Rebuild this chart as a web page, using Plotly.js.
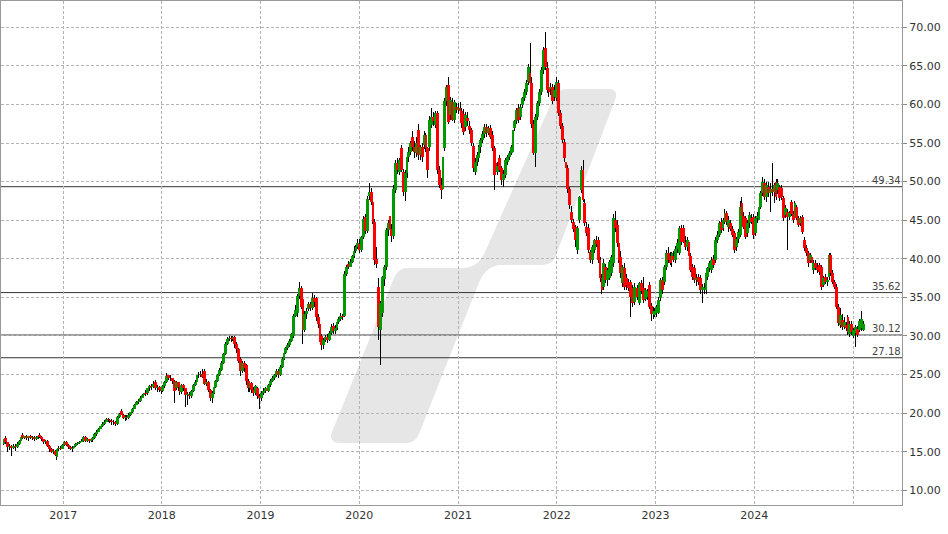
<!DOCTYPE html>
<html><head><meta charset="utf-8">
<script src="https://cdn.plot.ly/plotly-3.0.1.min.js"></script>
<style>html,body{margin:0;padding:0;background:#fff}#chart{width:948px;height:534px}</style>
</head><body><div id="chart"></div>
<script>
// weekly candles [open, high, low, close], first week ending 2016-05-27
const firstWeek = '2016-05-27';
const ohlc2016 = [[16.0,16.7,15.9,16.6],[16.8,17.0,16.0,16.2],[16.2,16.3,15.0,15.6],[15.6,16.0,15.2,15.8],[15.8,15.9,14.4,15.5],[15.5,16.0,15.3,15.8],[15.8,16.0,15.1,15.6],[15.6,16.2,15.5,16.0],[16.0,16.5,15.9,16.4],[16.4,17.0,16.3,16.9],[17.2,17.4,16.7,16.8],[16.8,17.1,16.6,17.0],[17.0,17.2,16.5,16.8],[16.8,17.1,16.4,17.0],[17.0,17.2,16.6,16.8],[16.8,17.1,16.5,16.9],[16.9,17.0,16.4,16.7],[16.7,17.0,16.5,16.9],[16.9,17.2,16.7,17.1],[17.2,17.4,16.8,16.9],[16.9,17.0,16.4,16.6],[16.6,16.7,16.0,16.2],[16.2,16.5,16.0,16.4],[16.4,16.5,15.6,15.8],[15.8,15.9,15.0,15.3],[15.3,15.5,14.8,15.0],[15.0,15.3,14.7,15.1],[15.1,15.2,14.4,14.6],[14.3,15.4,13.9,15.3],[15.3,15.7,15.1,15.5],[15.5,15.7,15.2,15.4],[15.4,16.0,15.3,15.9]];
const ohlc2017 = [[15.9,16.4,15.8,16.3],[16.3,16.4,15.8,15.9],[15.9,16.0,15.4,15.6],[15.6,15.7,15.2,15.4],[15.4,15.7,15.0,15.5],[15.5,15.8,15.3,15.7],[15.7,16.1,15.6,16.0],[16.0,16.3,15.9,16.1],[16.1,16.4,16.0,16.3],[16.3,16.6,16.2,16.4],[16.4,17.0,16.3,16.9],[16.9,17.0,16.2,16.4],[16.4,16.8,16.2,16.6],[16.6,16.7,16.1,16.4],[16.4,16.6,16.2,16.5],[16.5,16.9,16.3,16.8],[16.8,17.4,16.7,17.3],[17.3,17.8,17.1,17.6],[17.6,18.1,17.5,18.0],[18.0,18.4,17.9,18.3],[18.3,18.8,18.2,18.6],[18.6,19.1,18.5,18.9],[18.9,19.4,18.8,19.2],[19.2,19.4,18.9,19.1],[19.1,19.3,18.7,19.0],[19.0,19.2,18.5,18.8],[18.8,19.1,18.5,18.9],[18.9,19.0,18.4,18.6],[18.6,19.6,18.5,19.5],[19.5,20.0,19.4,19.9],[20.3,20.5,19.7,19.8],[19.8,19.9,19.2,19.4],[19.4,19.7,19.0,19.5],[19.5,19.7,19.1,19.4],[19.4,20.0,19.3,19.8],[19.8,20.2,19.6,20.1],[20.1,20.7,20.0,20.6],[20.6,21.2,20.5,21.1],[21.1,21.6,21.0,21.4],[21.4,21.8,21.2,21.6],[21.6,22.2,21.5,22.0],[22.0,22.5,21.9,22.3],[22.3,23.3,22.1,22.6],[22.6,23.0,22.2,22.5],[22.6,23.3,22.4,23.2],[23.2,23.7,22.9,23.5],[23.5,23.8,23.0,23.4],[23.4,24.2,23.2,23.8],[24.0,24.3,23.0,23.2],[23.2,23.6,22.8,23.4],[23.4,23.5,22.7,23.0],[23.0,23.3,22.5,22.9]];
const ohlc2018 = [[22.9,23.7,22.8,23.5],[23.5,24.2,23.3,24.0],[24.0,25.2,23.9,24.8],[24.9,25.0,24.3,24.6],[24.6,24.9,24.2,24.5],[24.5,24.6,23.8,24.2],[24.2,24.3,21.3,22.9],[23.2,24.2,23.0,24.0],[24.0,24.1,22.9,23.4],[23.4,23.6,22.3,22.7],[22.7,23.8,22.5,23.6],[23.6,23.8,22.9,23.2],[23.2,23.3,20.8,22.3],[22.3,22.8,21.0,22.5],[22.4,22.7,21.8,22.2],[22.2,23.0,22.0,22.9],[22.9,23.8,22.8,23.6],[23.6,24.3,23.5,24.1],[24.1,25.2,24.0,25.0],[25.0,25.3,24.6,24.9],[24.9,25.5,24.7,25.1],[25.1,25.7,24.5,24.7],[25.5,25.7,23.6,23.8],[23.8,24.4,23.5,24.1],[24.1,24.2,22.8,23.0],[23.0,23.1,21.6,22.0],[22.0,22.9,21.3,22.6],[22.6,23.6,22.5,23.4],[23.4,24.3,23.2,24.2],[24.2,25.1,24.1,24.9],[24.9,25.8,24.8,25.6],[25.6,26.7,25.5,26.5],[26.5,27.8,26.4,27.6],[27.6,29.2,27.5,29.0],[29.0,29.9,28.8,29.6],[29.6,30.0,29.3,29.8],[29.8,30.0,29.2,29.6],[29.6,30.0,29.3,29.9],[29.9,30.0,28.4,28.9],[28.9,29.2,27.8,28.3],[28.3,28.5,26.5,26.8],[27.0,27.3,24.8,25.4],[25.4,26.8,25.2,26.5],[26.5,26.8,25.3,25.8],[26.2,26.4,23.6,24.2],[24.2,24.4,22.8,23.2],[23.2,24.2,22.8,23.9],[23.9,24.1,22.6,23.0],[23.0,23.4,22.2,22.6],[22.6,23.7,22.4,23.5],[23.2,23.4,21.8,22.2],[22.2,22.5,20.6,21.9]];
const ohlc2019 = [[21.9,22.9,21.6,22.6],[22.6,23.2,22.4,22.9],[22.9,23.4,22.6,23.2],[23.2,23.5,22.7,22.9],[22.9,23.8,22.8,23.6],[23.6,24.4,23.4,24.2],[24.2,24.8,24.0,24.5],[24.5,25.1,24.3,24.9],[24.9,25.7,24.7,25.5],[25.5,25.7,24.6,24.9],[24.9,26.2,24.8,26.0],[26.0,27.3,25.9,27.0],[27.0,28.0,26.9,27.8],[27.8,28.6,27.6,28.4],[28.4,29.1,28.2,28.8],[28.8,29.6,28.6,29.4],[29.4,30.4,29.2,30.2],[30.0,32.9,29.8,32.6],[32.6,34.0,32.4,33.4],[33.0,35.5,32.4,35.2],[35.2,37.0,34.8,36.2],[36.2,36.5,33.5,33.8],[34.8,35.1,29.0,30.8],[30.8,33.3,30.5,32.9],[32.9,33.6,32.2,33.3],[33.5,34.4,33.2,34.2],[34.2,34.4,33.3,33.6],[33.6,35.6,33.4,34.9],[34.9,35.3,33.8,34.4],[34.9,35.1,32.0,32.4],[32.4,32.8,31.0,31.6],[31.6,31.8,28.8,29.2],[30.0,30.3,28.2,28.8],[28.8,29.8,28.3,29.5],[29.5,30.1,29.2,29.9],[29.9,30.2,29.1,29.5],[29.5,30.7,29.3,30.4],[30.4,31.6,30.1,31.2],[31.3,31.7,30.3,30.6],[30.6,31.4,30.3,31.0],[31.0,32.2,30.8,31.8],[31.8,32.5,31.5,32.2],[32.2,33.0,31.9,32.6],[32.6,32.9,32.1,32.4],[32.6,38.4,32.4,38.0],[38.0,39.2,37.8,38.9],[39.3,39.7,38.7,39.0],[39.0,40.0,38.9,39.6],[39.6,40.5,39.4,40.3],[40.3,41.6,40.1,41.0],[41.0,41.8,40.8,41.5],[41.5,42.6,41.3,42.0]];
const ohlc2020 = [[41.9,42.5,40.8,41.2],[41.2,43.0,40.9,42.8],[42.8,45.6,42.6,45.2],[45.4,45.8,43.2,43.6],[43.6,48.2,43.3,47.8],[48.2,49.8,47.6,48.6],[48.6,49.2,47.0,47.4],[47.4,47.8,44.5,44.8],[44.8,45.2,39.2,39.8],[40.0,41.5,38.8,39.3],[36.3,37.5,29.5,31.1],[30.8,34.5,26.2,34.3],[33.0,37.8,32.4,37.6],[37.4,39.2,36.5,38.9],[38.9,44.0,38.5,43.7],[43.7,45.0,43.0,44.6],[45.5,45.9,43.4,43.8],[43.8,44.5,42.2,43.0],[43.0,49.5,42.5,49.0],[48.9,52.8,48.5,52.4],[52.4,53.0,51.0,51.5],[51.2,53.0,50.8,52.8],[54.3,54.8,51.2,51.5],[51.2,51.6,48.2,48.6],[48.6,51.5,47.5,51.1],[51.1,53.5,50.5,53.2],[53.2,54.5,52.5,53.9],[53.9,55.3,53.5,55.0],[55.8,56.5,54.0,54.5],[54.5,55.2,53.0,53.8],[53.7,55.8,53.2,55.0],[56.7,57.5,52.8,53.4],[53.4,54.8,52.8,54.5],[54.5,55.0,52.5,53.2],[54.7,56.5,54.2,56.0],[56.0,56.3,53.8,54.3],[54.3,54.5,50.5,51.5],[54.5,58.5,54.0,58.0],[57.3,59.5,57.0,58.4],[58.4,59.0,57.2,57.8],[57.3,59.2,57.0,58.9],[58.9,59.2,51.0,51.5],[51.5,52.0,49.2,49.6],[49.5,50.5,47.8,48.9],[49.1,53.5,48.5,53.2],[54.3,60.8,54.0,60.5],[60.5,62.5,59.8,62.2],[62.5,63.5,57.5,57.7],[58.6,61.0,58.0,60.6],[60.3,60.8,57.8,58.0],[58.0,60.6,57.6,60.3],[59.7,60.2,58.9,59.3]];
const ohlc2021 = [[59.3,60.2,58.8,59.6],[59.6,60.3,58.6,59.2],[59.2,59.6,57.0,57.6],[58.8,59.4,56.0,56.4],[57.1,59.0,56.5,58.6],[58.3,59.0,57.2,57.9],[57.2,57.8,56.2,56.7],[56.7,57.0,54.6,55.0],[54.6,55.0,51.3,51.7],[51.2,53.0,50.8,52.6],[52.6,53.8,52.0,53.4],[53.0,54.8,52.5,54.5],[54.5,55.6,53.7,55.4],[55.4,56.5,55.0,56.2],[56.2,57.5,55.6,57.1],[57.1,57.4,55.8,56.3],[56.3,57.2,56.0,56.9],[56.9,57.3,55.5,55.8],[56.0,56.5,54.0,54.3],[54.3,54.6,48.9,50.8],[52.4,52.8,51.0,51.2],[51.2,52.5,50.8,52.0],[53.0,53.5,51.2,51.5],[51.7,52.0,49.6,50.2],[50.2,51.5,49.3,51.0],[50.8,53.0,50.5,52.8],[52.5,53.5,52.2,53.2],[53.2,54.0,52.8,53.7],[53.7,54.8,53.4,54.5],[53.8,57.0,53.5,56.7],[56.9,58.0,56.6,57.8],[57.8,59.6,57.5,59.3],[59.5,60.0,57.6,58.0],[58.4,60.0,58.0,59.7],[59.9,61.0,59.5,60.8],[60.8,62.0,60.5,61.6],[61.6,63.2,61.2,62.8],[62.9,65.2,62.5,64.8],[64.1,68.0,62.5,62.8],[62.8,63.5,57.0,57.5],[57.5,58.0,53.5,53.7],[53.7,58.8,51.9,58.4],[58.4,60.5,58.0,60.2],[60.2,62.0,59.8,61.6],[61.6,64.8,61.2,64.4],[64.4,67.4,64.0,67.0],[67.3,69.4,64.5,64.8],[64.7,65.5,61.5,61.9],[62.2,63.0,61.0,61.6],[62.0,62.8,61.2,62.2],[62.2,62.6,60.0,60.5],[60.9,62.5,60.5,61.9],[60.8,63.5,60.5,62.9]];
const ohlc2022 = [[62.8,63.2,58.5,58.9],[58.9,59.3,56.8,57.2],[57.2,57.6,55.0,55.4],[55.1,55.5,52.5,53.0],[52.5,53.0,51.5,51.8],[51.8,52.2,48.5,49.0],[49.0,49.3,46.5,47.0],[46.1,46.8,44.6,45.0],[44.8,45.2,43.5,43.8],[44.1,44.4,41.5,42.4],[41.1,44.3,40.6,44.0],[45.0,48.2,44.6,48.0],[48.9,52.0,48.5,51.5],[51.5,52.8,47.3,47.6],[47.2,47.8,44.3,44.6],[44.1,44.8,43.0,43.3],[44.0,44.5,40.8,41.2],[40.9,41.2,39.5,39.8],[39.8,41.8,39.3,41.5],[41.1,42.6,40.8,42.4],[42.4,43.0,41.5,41.9],[42.4,42.8,39.5,39.8],[39.8,40.2,37.0,37.5],[37.5,38.0,35.5,35.9],[36.4,40.0,36.0,39.5],[38.9,39.3,36.8,37.2],[37.2,38.8,36.5,38.5],[37.5,39.9,37.2,39.6],[38.1,40.5,37.8,40.2],[39.4,45.8,39.0,45.3],[45.0,46.2,43.5,44.0],[44.4,45.0,41.5,42.0],[42.0,42.5,39.5,39.8],[40.2,41.0,37.5,38.1],[36.8,39.2,36.3,38.9],[38.8,39.5,36.0,36.4],[37.5,38.0,36.0,36.6],[37.0,37.4,35.8,36.2],[37.0,37.3,32.4,35.1],[36.2,36.6,33.8,34.3],[34.4,36.8,34.0,36.4],[35.0,36.6,34.6,36.2],[36.2,36.6,34.6,35.0],[34.3,37.0,34.0,36.8],[36.8,37.2,35.5,35.8],[36.2,37.6,34.3,34.6],[34.8,36.2,34.5,35.9],[35.0,36.1,34.6,35.8],[36.6,37.0,33.5,33.8],[33.9,34.3,32.0,32.8],[32.9,33.8,32.2,33.3],[32.7,33.6,32.4,33.3]];
const ohlc2023 = [[33.0,34.0,32.5,33.8],[33.0,35.0,32.8,34.6],[34.9,37.5,34.5,37.2],[37.2,37.6,35.5,35.9],[37.0,39.2,36.6,38.9],[38.9,41.2,38.6,40.8],[40.7,41.5,39.5,39.8],[40.4,40.9,39.2,39.5],[39.8,40.9,39.0,40.7],[40.4,41.0,39.6,39.9],[39.8,41.6,39.5,41.3],[41.3,42.5,40.8,42.0],[40.8,44.3,40.5,44.0],[44.0,44.4,41.8,42.2],[44.0,44.4,42.0,42.2],[42.2,43.0,41.2,41.5],[41.5,42.8,41.0,42.4],[42.2,42.6,40.0,40.4],[40.4,40.8,38.3,38.6],[38.9,39.3,37.3,37.6],[38.8,39.2,36.9,37.2],[37.2,38.0,36.5,37.5],[37.6,38.0,36.6,37.0],[37.5,37.9,35.5,35.9],[35.9,36.7,34.3,36.4],[36.0,36.8,35.4,36.2],[35.9,38.5,35.5,38.1],[37.6,39.0,37.2,38.8],[38.8,39.7,38.3,39.4],[38.5,40.2,38.2,39.8],[40.0,40.5,38.8,39.2],[39.8,42.8,39.4,42.4],[42.4,43.6,42.0,43.1],[43.1,44.9,42.8,44.6],[44.8,45.3,43.4,43.7],[44.0,45.3,43.6,45.0],[44.8,46.5,44.5,45.9],[45.9,46.2,44.4,44.8],[44.1,45.6,43.5,45.0],[44.6,45.0,43.6,43.9],[43.9,44.3,42.8,43.1],[43.3,43.6,40.7,41.1],[41.5,42.8,41.0,42.5],[42.5,43.8,42.0,43.5],[43.1,47.5,42.8,46.7],[47.2,48.0,45.0,45.5],[45.5,46.0,43.8,44.1],[45.3,45.6,42.5,42.8],[43.3,45.0,42.8,44.6],[44.6,46.0,44.0,45.7],[45.3,45.8,44.5,44.8],[45.4,45.8,42.5,43.1]];
const ohlc2024 = [[43.3,45.6,43.0,45.3],[45.3,46.0,44.6,45.6],[45.0,47.0,44.7,46.7],[46.7,48.8,46.5,48.5],[48.5,50.6,48.2,50.0],[49.8,50.4,47.6,48.0],[48.0,50.0,47.4,49.6],[49.3,50.0,48.0,48.5],[48.5,49.8,46.0,49.0],[49.0,52.4,48.2,48.6],[48.6,49.8,47.2,49.5],[50.0,50.3,47.6,48.0],[48.9,50.4,48.4,49.8],[49.3,49.6,47.5,47.9],[49.2,49.5,47.6,48.0],[47.9,48.2,44.9,45.3],[45.7,47.0,45.3,46.6],[46.0,46.5,41.1,45.4],[45.4,46.2,45.0,45.9],[47.3,47.6,45.5,45.8],[45.8,46.2,44.6,45.0],[45.4,47.5,45.0,47.2],[46.7,47.0,45.0,45.3],[45.3,45.5,44.1,44.4],[44.6,45.6,44.2,45.3],[45.4,45.7,43.2,43.5],[42.4,42.8,41.0,41.4],[41.4,41.8,40.3,40.7],[40.7,41.0,39.0,39.4],[39.8,40.8,39.4,40.5],[40.2,40.6,37.5,39.4],[38.5,39.8,38.0,39.4],[39.4,39.8,38.5,38.8],[39.0,39.4,38.2,38.6],[39.2,39.5,37.9,38.3],[38.9,39.2,36.0,36.4],[36.6,37.8,36.3,37.5],[37.6,38.0,36.7,37.0],[37.0,37.6,36.5,37.3],[37.6,40.8,37.3,40.5],[40.5,40.8,37.8,38.1],[38.1,38.5,36.7,37.0],[37.0,37.3,36.1,36.4],[36.4,36.7,33.5,33.8],[33.8,34.2,31.3,31.7],[31.4,33.6,31.0,32.7],[32.1,32.8,30.8,31.2],[31.2,32.4,30.9,31.8],[31.4,31.8,30.6,31.0],[32.4,32.7,30.1,30.5],[30.3,31.9,29.9,31.6],[31.6,31.9,30.1,30.5]];
const ohlc2025 = [[30.0,31.0,29.7,30.8],[30.4,31.4,28.6,31.2],[30.9,31.3,29.9,30.1],[30.8,32.2,30.5,32.0],[31.0,33.3,30.6,32.2],[30.8,31.9,30.6,31.6]];

const levels = [49.34, 35.62, 30.12, 27.18];
const yearTickDates = ['2017-01-01','2018-01-01','2019-01-01','2020-01-01','2021-01-01','2022-01-01','2023-01-01','2024-01-01','2025-01-01'];
const yearTickLabels = ['2017','2018','2019','2020','2021','2022','2023','2024',''];
const priceTicks = [10,15,20,25,30,35,40,45,50,55,60,65,70];

const weeks = [].concat(ohlc2016, ohlc2017, ohlc2018, ohlc2019, ohlc2020, ohlc2021, ohlc2022, ohlc2023, ohlc2024, ohlc2025);
const t0 = Date.parse(firstWeek + 'T00:00:00Z');
const dates = weeks.map((w, i) => new Date(t0 + i * 7 * 864e5).toISOString().slice(0, 10));

const wickBase = weeks.map(w => w[2]);
const wickLen = weeks.map(w => w[1] - w[2]);
const bodyBase = weeks.map(w => Math.min(w[0], w[3]));
const bodyLen = weeks.map(w => Math.max(Math.abs(w[3] - w[0]), 0.08));
const bodyColor = weeks.map(w => w[3] >= w[0] ? '#009a00' : '#ff0000');

const wicks = { type: 'bar', x: dates, base: wickBase, y: wickLen, width: 3.1e8, marker: { color: '#000', line: { width: 0 } }, hoverinfo: 'skip' };
const bodies = { type: 'bar', x: dates, base: bodyBase, y: bodyLen, width: 9.2e8, marker: { color: bodyColor, line: { width: 0 } }, hoverinfo: 'skip' };

// watermark (decoration), pixel -> paper
const PX = (x, y) => ((x - 1) / 901).toFixed(4) + ',' + ((505 - y) / 504).toFixed(4);
const wmPath = 'M' + PX(340,443) + ' L' + PX(405,443) + ' Q' + PX(416,443) + ' ' + PX(419,434) +
  ' L' + PX(478,285) + ' Q' + PX(485,266) + ' ' + PX(500,265) + ' L' + PX(542,265) +
  ' Q' + PX(553,265) + ' ' + PX(556,255) + ' L' + PX(615,100) + ' Q' + PX(619,89) + ' ' + PX(608,89) +
  ' L' + PX(567,89) + ' Q' + PX(557,89) + ' ' + PX(553,99) + ' L' + PX(485,252) +
  ' Q' + PX(478,268) + ' ' + PX(462,268) + ' L' + PX(408,268) + ' Q' + PX(398,268) + ' ' + PX(394,278) +
  ' L' + PX(332,432) + ' Q' + PX(328,443) + ' ' + PX(340,443) + ' Z';

const shapes = [{ type: 'path', xref: 'paper', yref: 'paper', path: wmPath, fillcolor: '#e6e6e6', line: { width: 0 }, layer: 'below' }];
levels.forEach(v => shapes.push({ type: 'line', xref: 'paper', x0: 0, x1: 1, yref: 'y', y0: v, y1: v, line: { color: '#333', width: 1 }, layer: 'between' }));

const annotations = levels.map(v => ({ xref: 'paper', x: 1, xanchor: 'right', yref: 'y', y: v, yanchor: 'bottom', text: v.toFixed(2), showarrow: false, font: { family: 'DejaVu Sans', size: 10, color: '#444' }, borderpad: 0, yshift: 0 }));

const layout = {
  width: 948, height: 534,
  margin: { l: 1, r: 46, t: 1, b: 29, pad: 0 },
  paper_bgcolor: '#fff', plot_bgcolor: '#fff',
  showlegend: false, barmode: 'overlay', bargap: 0,
  font: { family: 'DejaVu Sans', size: 11, color: '#333' },
  xaxis: {
    type: 'date', range: ['2016-05-16', '2025-07-01'],
    tickmode: 'array', tickvals: yearTickDates, ticktext: yearTickLabels,
    showgrid: true, gridcolor: '#b4b4b4', griddash: '3px,2px', gridwidth: 1,
    showline: true, linecolor: '#999', linewidth: 1, mirror: true,
    ticks: '', zeroline: false, fixedrange: true,
    tickfont: { family: 'DejaVu Sans', size: 11, color: '#333' }
  },
  yaxis: {
    side: 'right', range: [8.1, 73.4],
    tickmode: 'array', tickvals: priceTicks, tickformat: '.2f',
    showgrid: true, gridcolor: '#b4b4b4', griddash: '3px,2px', gridwidth: 1,
    showline: true, linecolor: '#999', linewidth: 1, mirror: true,
    ticks: 'outside', ticklen: 4, tickcolor: '#888', zeroline: false, fixedrange: true,
    tickfont: { family: 'DejaVu Sans', size: 11, color: '#333' }
  },
  shapes: shapes,
  annotations: annotations
};

Plotly.newPlot('chart', [wicks, bodies], layout, { displayModeBar: false, staticPlot: true });
</script>
</body></html>
